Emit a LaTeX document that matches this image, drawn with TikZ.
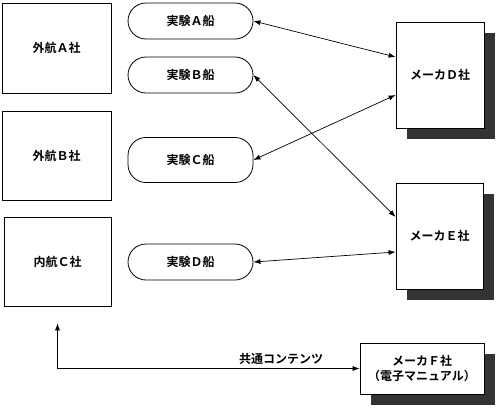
\documentclass[tikz,border=0pt]{standalone}
\usepackage{fontspec}
\setmainfont{Noto Sans CJK JP}[BoldFont=* Bold]
\usetikzlibrary{shadows}
\usetikzlibrary{arrows.meta}

\begin{document}
\begin{tikzpicture}[x=1pt,y=-1pt,
    company/.style={draw,line width=0.8pt,fill=white,font=\bfseries\fontsize{12}{15.5}\selectfont,inner sep=0pt},
    ship/.style={draw,line width=0.8pt,rounded corners=18pt,minimum width=125pt,font=\bfseries\fontsize{12}{15.5}\selectfont,inner sep=0pt},
    maker/.style={company,drop shadow={shadow xshift=11pt,shadow yshift=-11pt,fill=black!80,opacity=1}},
    link/.style={line width=0.7pt,{Latex[length=7pt,width=5pt]}-{Latex[length=7pt,width=5pt]}}]
    \useasboundingbox (0,0) rectangle (500,410);
    \def\sx{190.5};
    \node[company,minimum width=109pt,minimum height=90pt] at (56.5, 48) (gA) {外航Ａ社};
    \node[company,minimum width=109pt,minimum height=89pt] at (56.5, 155.5) (gB) {外航Ｂ社};
    \node[company,minimum width=107pt,minimum height=89pt] at (57.5, 261.5) (nC) {内航Ｃ社};
    \node[ship,minimum height=36pt] at (\sx, 21) (sA) {実験Ａ船};
    \node[ship,minimum height=36pt] at (\sx, 75) (sB) {実験Ｂ船};
    \node[ship,minimum height=45pt] at (\sx, 160) (sC) {実験Ｃ船};
    \node[ship,minimum height=36pt] at (\sx, 262) (sD) {実験Ｄ船};
    \node[maker,minimum width=88pt,minimum height=106pt] at (440, 75) (mD) {メーカＤ社};
    \node[maker,minimum width=87pt,minimum height=106pt] at (439.5, 236) (mE) {メーカＥ社};
    \node[maker,minimum width=124pt,minimum height=51pt,align=center] at (422, 368.5) (mF) {メーカＦ社\\（電子マニュアル）};
    \draw[link] (sA.east) -- ([yshift=18pt]mD.west);
    \draw[link] (sB.east) -- ([yshift=19pt]mE.west);
    \draw[link] (sC.east) -- ([yshift=-20pt]mD.west);
    \draw[link] (sD.east) -- ([yshift=-16pt]mE.west);
    \draw[link] (mF.west) -| ([yshift=-17pt]nC.south) node[pos=0.13,above,font=\bfseries\fontsize{12}{15.5}\selectfont] (lbl) {共通コンテンツ};
\end{tikzpicture}
\end{document}
